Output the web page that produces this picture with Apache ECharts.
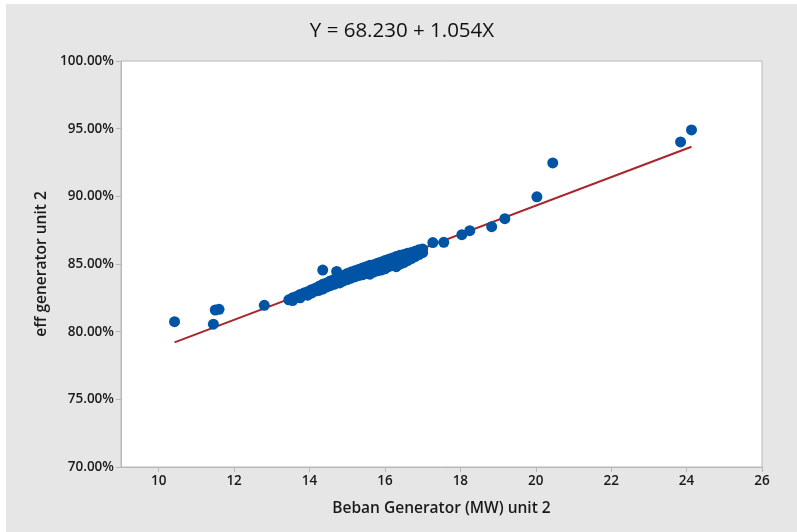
<!DOCTYPE html>
<html>
<head>
<meta charset="utf-8">
<script src="https://cdn.jsdelivr.net/npm/echarts@6/dist/echarts.min.js"></script>
<style>
  html, body { margin: 0; padding: 0; background: #fff; }
  #main { position: absolute; left: 6px; top: 4px; width: 791px; height: 528px; background: #e6e6e6; }
</style>
</head>
<body>
<div id="main"></div>
<script>
// beban generator (MW) unit 2
const beban = [
  10.42, 11.45, 11.5, 11.6, 12.8,
  13.45, 13.55, 13.55, 13.65, 13.75, 13.75, 13.85, 13.95, 13.95,
  14.05, 14.05, 14.15, 14.15, 14.25, 14.25, 14.35, 14.35, 14.35,
  14.45, 14.45, 14.55, 14.55, 14.65, 14.65, 14.72, 14.8, 14.8, 14.9, 14.9,
  15.0, 15.0, 15.1, 15.1, 15.2, 15.2, 15.3, 15.3, 15.4, 15.4,
  15.5, 15.5, 15.6, 15.6, 15.7, 15.7, 15.8, 15.8, 15.9, 15.9,
  16.0, 16.0, 16.1, 16.1, 16.2, 16.2, 16.3, 16.3, 16.4, 16.4,
  16.5, 16.5, 16.6, 16.6, 16.7, 16.7, 16.8, 16.8, 16.9, 16.9, 17.0, 17.0,
  17.27, 17.56, 18.04, 18.25, 18.83, 19.18, 20.03, 20.45, 23.84, 24.13
]
// eff generator unit 2 (%)
const eff = [
  80.74, 80.55, 81.6, 81.65, 81.95,
  82.35, 82.5, 82.3, 82.6, 82.75, 82.5, 82.85, 82.95, 82.7,
  83.1, 82.85, 83.2, 83.0, 83.35, 83.05, 84.55, 83.5, 83.15,
  83.6, 83.3, 83.75, 83.4, 83.85, 83.5, 84.45, 84.0, 83.6, 84.15, 83.75,
  84.3, 83.85, 84.4, 83.95, 84.5, 84.05, 84.6, 84.15, 84.7, 84.2,
  84.8, 84.3, 84.9, 84.25, 84.95, 84.4, 85.05, 84.5, 85.15, 84.55,
  85.25, 84.65, 85.35, 84.8, 85.45, 84.9, 85.55, 84.8, 85.65, 85.0,
  85.7, 85.1, 85.8, 85.25, 85.85, 85.4, 85.95, 85.55, 86.05, 85.7, 86.1, 85.85,
  86.58, 86.6, 87.17, 87.46, 87.76, 88.35, 89.96, 92.47, 94.02, 94.91
]
// garis regresi: Y = 68.230 + 1.054X
const fitCoef = [68.230, 1.054]
const fitRange = [10.42, 24.13]
const xTicks = [10, 12, 14, 16, 18, 20, 22, 24, 26]

const points = beban.map((x, i) => [x, eff[i]])
const fitLine = fitRange.map(x => [x, fitCoef[0] + fitCoef[1] * x])

const myChart = echarts.init(document.getElementById('main'))

const labelStyle = {
  color: '#1a1a1a',
  fontFamily: 'Open Sans',
  fontSize: 13.5,
  fontWeight: 600
}
const nameStyle = { color: '#1a1a1a', fontFamily: 'Open Sans', fontSize: 15.5, fontWeight: 600 }

const option = {
  animation: false,
  title: {
    text: 'Y = ' + fitCoef[0].toFixed(3) + ' + ' + fitCoef[1].toFixed(3) + 'X',
    left: 391,
    top: 12,
    textAlign: 'center',
    textStyle: {
      color: '#111',
      fontFamily: 'Open Sans',
      fontSize: 20.5,
      fontWeight: 'normal'
    }
  },
  grid: {
    left: 115,
    top: 57,
    right: 35,
    bottom: 65,
    show: true,
    backgroundColor: '#fff',
    borderColor: '#b8b8b8',
    borderWidth: 1
  },
  xAxis: {
    type: 'value',
    min: 9,
    max: 26,
    name: 'Beban Generator (MW) unit 2',
    nameLocation: 'middle',
    nameGap: 34,
    nameTextStyle: nameStyle,
    splitLine: { show: false },
    axisLine: { lineStyle: { color: '#b8b8b8' } },
    axisTick: { customValues: xTicks, length: 5, lineStyle: { color: '#b8b8b8' } },
    axisLabel: Object.assign({ customValues: xTicks, margin: 7 }, labelStyle)
  },
  yAxis: {
    type: 'value',
    min: 70,
    max: 100,
    interval: 5,
    name: 'eff generator unit 2',
    nameLocation: 'middle',
    nameGap: 70,
    nameTextStyle: nameStyle,
    splitLine: { show: false },
    axisLine: { show: true, lineStyle: { color: '#b8b8b8' } },
    axisTick: { show: true, length: 5, lineStyle: { color: '#b8b8b8' } },
    axisLabel: Object.assign({ margin: 7, formatter: v => v.toFixed(2) + '%' }, labelStyle)
  },
  series: [
    {
      type: 'line',
      data: fitLine,
      symbol: 'none',
      lineStyle: { color: '#a8262a', width: 2 },
      z: 1
    },
    {
      type: 'scatter',
      data: points,
      symbolSize: 11,
      itemStyle: { color: '#0054a6', opacity: 1 },
      z: 2
    }
  ]
}

myChart.setOption(option)
window.addEventListener('resize', () => {
  myChart.resize()
})
</script>
</body>
</html>
